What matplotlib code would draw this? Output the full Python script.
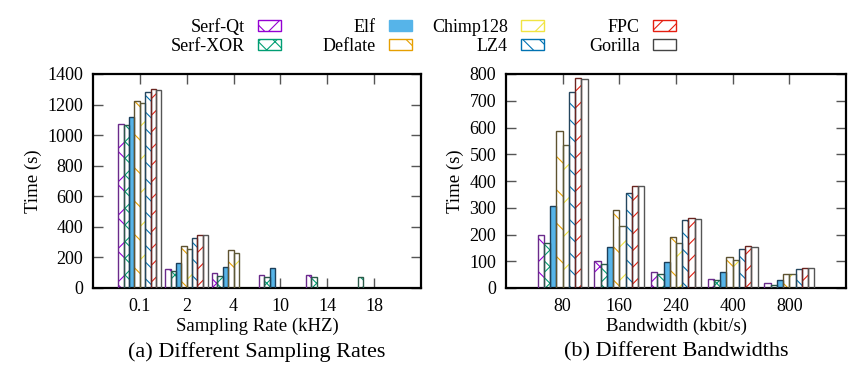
import numpy as np
import matplotlib
matplotlib.use('Agg')
import matplotlib.pyplot as plt
from matplotlib.patches import Patch

# Series (bar order inside each group)
methods = ['Serf-Qt', 'Serf-XOR', 'Elf', 'Deflate', 'Chimp128', 'LZ4', 'FPC', 'Gorilla']

# (a) Different sampling rates (kHZ); None = no bar
rate_labels = ['0.1', '2', '4', '10', '14', '18']
rate_times = {
    'Serf-Qt':  [1075, 127, 100, 85, 82, None],
    'Serf-XOR': [1065, 111, 78, 70, 72, 70],
    'Elf':      [1117, 166, 140, 133, None, None],
    'Deflate':  [1226, 273, 248, None, None, None],
    'Chimp128': [1209, 254, 230, None, None, None],
    'LZ4':      [1281, 330, None, None, None, None],
    'FPC':      [1300, 345, None, None, None, None],
    'Gorilla':  [1298, 345, None, None, None, None],
}

# (b) Different bandwidths (kbit/s)
bw_labels = ['80', '160', '240', '400', '800']
bw_times = {
    'Serf-Qt':  [197, 100, 59, 34, 18],
    'Serf-XOR': [170, 91, 54, 30, 13],
    'Elf':      [306, 152, 99, 59, 29],
    'Deflate':  [586, 291, 190, 116, 54],
    'Chimp128': [535, 231, 170, 106, 52],
    'LZ4':      [732, 356, 253, 146, 70],
    'FPC':      [784, 381, 262, 156, 75],
    'Gorilla':  [780, 381, 259, 153, 73],
}

# style per series: (hatch colour, hatch, face, border)
styles = {
    'Serf-Qt':  ('#9400d3', 'x', 'white', '#6a2a8a'),
    'Serf-XOR': ('#009e73', 'xx', 'white', '#2a5a48'),
    'Elf':      ('#56b4e9', '', '#56b4e9', '#1d3f5a'),
    'Deflate':  ('#e69f00', '\\', 'white', '#5e5230'),
    'Chimp128': ('#f0e442', '/', 'white', '#5e5a38'),
    'LZ4':      ('#0072b2', '\\\\', 'white', '#24465e'),
    'FPC':      ('#e51e10', '//', 'white', '#6a2420'),
    'Gorilla':  ('#ffffff', '', 'white', '#555555'),
}

plt.rcParams['font.family'] = ['Liberation Serif', 'DejaVu Serif']
plt.rcParams['font.size'] = 13
plt.rcParams['hatch.linewidth'] = 0.8


def draw(ax, labels, data, width, ymax, ystep, xlabel):
    x = np.arange(len(labels))
    for i, m in enumerate(methods):
        vals = np.array([np.nan if v is None else v for v in data[m]], float)
        ok = ~np.isnan(vals)
        pos = x[ok] + (i - 3.5) * width
        hc, hatch, face, edge = styles[m]
        ax.bar(pos, vals[ok], width, color=face, edgecolor=hc,
               hatch=hatch, linewidth=0, zorder=2)
        ax.bar(pos, vals[ok], width, fill=False, edgecolor=edge,
               linewidth=1.0, zorder=3)
    ax.set_xlim(-1, len(labels))
    ax.set_ylim(0, ymax)
    ax.set_xticks(x)
    ax.set_xticklabels(labels)
    ax.set_yticks(np.arange(0, ymax + 1, ystep))
    ax.tick_params(direction='in', top=True, right=True, length=7,
                   width=1, color='#555555', pad=7)
    for s in ax.spines.values():
        s.set_linewidth(1.6)
    ax.set_xlabel(xlabel, labelpad=2, fontsize=13.5)
    ax.set_ylabel('Time (s)', labelpad=4, fontsize=13.5)


fig = plt.figure(figsize=(8.65, 3.74), dpi=100)
ax1 = fig.add_axes([93 / 865, 1 - 288 / 374, 328 / 865, 214 / 374])
ax2 = fig.add_axes([506 / 865, 1 - 288 / 374, 340 / 865, 214 / 374])

draw(ax1, rate_labels, rate_times, 0.115, 1400, 200, 'Sampling Rate (kHZ)')
draw(ax2, bw_labels, bw_times, 0.11, 800, 100, 'Bandwidth (kbit/s)')

fig.text(257 / 865, 1 - 352 / 374, '(a) Different Sampling Rates',
         ha='center', va='center', fontsize=16)
fig.text(676 / 865, 1 - 352 / 374, '(b) Different Bandwidths',
         ha='center', va='center', fontsize=16)

# legend: four right-aligned columns, sample box after the text
col_right = [281, 412, 544, 676]
for c in range(4):
    handles = []
    for m in methods[2 * c:2 * c + 2]:
        hc, hatch, face, edge = styles[m]
        if m == 'Gorilla':
            hc = '#444444'
        handles.append(Patch(facecolor=face, edgecolor=hc, hatch=hatch,
                             linewidth=1.0, label=m))
    fig.legend(handles=handles, loc='upper right', markerfirst=False,
               bbox_to_anchor=(col_right[c] / 865, 1 - 19 / 374),
               frameon=False, borderpad=0, borderaxespad=0,
               handlelength=1.3, handleheight=0.5, handletextpad=0.7,
               labelspacing=0.1, fontsize=13)

fig.savefig('out.png', dpi=100)
